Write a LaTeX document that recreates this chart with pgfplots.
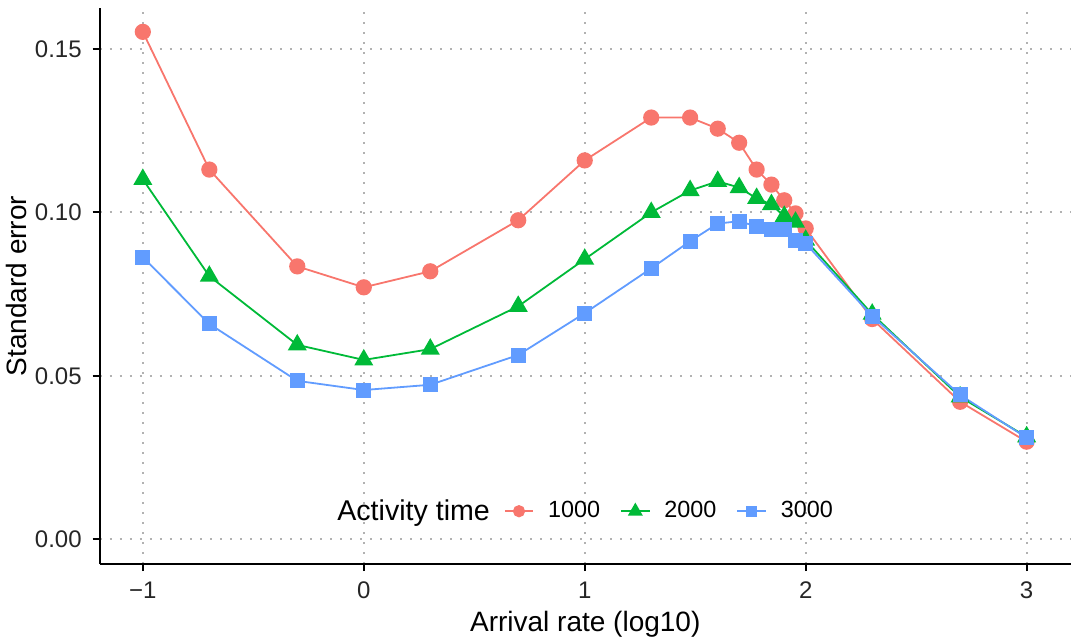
\documentclass[border=0pt]{standalone}
\usepackage{fontspec}
\setmainfont{Liberation Sans}
\usepackage{pgfplots}
\pgfplotsset{compat=1.18}
\usepackage{pgfplotstable}

\definecolor{c1}{HTML}{F8766D}
\definecolor{c2}{HTML}{00BA38}
\definecolor{c3}{HTML}{619CFF}

% x = log10 arrival rate; se for activity time 1000 / 2000 / 3000
\pgfplotstableread{
x      a      b      c
-1.000 0.1552 0.1101 0.0863
-0.699 0.1131 0.0805 0.0659
-0.301 0.0835 0.0595 0.0485
0.000  0.0771 0.0549 0.0457
0.301  0.0820 0.0582 0.0473
0.699  0.0976 0.0713 0.0564
1.000  0.1159 0.0857 0.0692
1.301  0.1290 0.1000 0.0829
1.477  0.1290 0.1067 0.0912
1.602  0.1256 0.1095 0.0966
1.699  0.1213 0.1076 0.0973
1.778  0.1131 0.1043 0.0957
1.845  0.1085 0.1024 0.0948
1.903  0.1037 0.0988 0.0948
1.954  0.0997 0.0970 0.0915
2.000  0.0951 0.0915 0.0905
2.301  0.0674 0.0689 0.0683
2.699  0.0421 0.0436 0.0442
3.000  0.0299 0.0314 0.0311
}\se

\begin{document}
\begin{tikzpicture}
\begin{axis}[
  name=ax,
  width=485.5pt, height=278pt, scale only axis,
  xmin=-1.195, xmax=3.2, ymin=-0.0075, ymax=0.1625,
  axis lines=left, axis line style={-, line width=1.2pt},
  tick align=outside, major tick length=3.5pt,
  tick style={line width=1pt, black},
  xtick={-1,0,1,2,3}, xticklabels={−1,0,1,2,3},
  ytick={0,0.05,0.10,0.15}, yticklabels={0.00,0.05,0.10,0.15},
  ticklabel style={font=\fontsize{12}{14}\selectfont, text=black!85},
  xticklabel style={yshift=-2pt}, yticklabel style={xshift=-2pt},
  grid=major,
  major grid style={line width=1pt, gray!60, dash pattern=on 1pt off 4pt},
  xlabel={Arrival rate (log10)}, ylabel={Standard error},
  label style={font=\fontsize{14}{16}\selectfont},
  xlabel style={yshift=1pt}, ylabel style={yshift=-3pt},
  every axis plot/.append style={line width=0.9pt},
  legend columns=-1,
  legend style={draw=none, fill=none, at={(0.507,0.095)}, anchor=center,
    font=\fontsize{11.7}{14}\selectfont,
    /tikz/every odd column/.append style={column sep=5pt},
    /tikz/every even column/.append style={column sep=8pt}},
  legend image code/.code={
    \draw[mark repeat=2,mark phase=2] plot coordinates {(0cm,0cm)(0.25cm,0cm)(0.5cm,0cm)};},
]
\addlegendimage{empty legend}
\addlegendentry{\hspace*{-12pt}\fontsize{14.3}{16}\selectfont Activity time\hspace*{-3pt}}
\addplot[c1, mark=*, mark size=3.6pt, mark options={draw=c1, fill=c1},
  legend image post style={mark size=2.6pt}] table[x=x, y=a] {\se};
\addlegendentry{1000}
\addplot[c2, mark=triangle*, mark size=4.6pt, mark options={draw=c2, fill=c2},
  legend image post style={mark size=3.4pt}] table[x=x, y=b] {\se};
\addlegendentry{2000}
\addplot[c3, mark=square*, mark size=3.3pt, mark options={draw=c3, fill=c3},
  legend image post style={mark size=2.4pt}] table[x=x, y=c] {\se};
\addlegendentry{3000}
\end{axis}
\path ([yshift=4pt]ax.north);
\end{tikzpicture}
\end{document}
